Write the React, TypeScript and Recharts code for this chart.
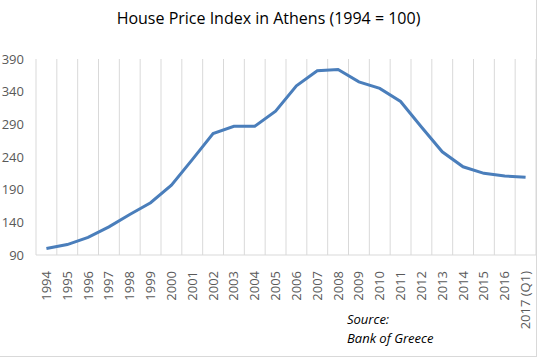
import { CartesianGrid, Line, LineChart, XAxis, YAxis } from "recharts";

const years = [
  "1994", "1995", "1996", "1997", "1998", "1999", "2000", "2001",
  "2002", "2003", "2004", "2005", "2006", "2007", "2008", "2009",
  "2010", "2011", "2012", "2013", "2014", "2015", "2016", "2017 (Q1)",
];
const priceIndex = [
  100, 106, 117, 133, 152, 170, 197, 236,
  276, 287, 287, 310, 349, 372, 374, 355,
  345, 325, 286, 248, 225, 215, 211, 209,
];
const yTicks = [90, 140, 190, 240, 290, 340, 390];

const data = years.map((year, i) => ({ year, value: priceIndex[i] }));

const FONT = "'Open Sans', sans-serif";
const GRID = "#d9d9d9";

function YearTick(props: any) {
  const { x, y, payload } = props;
  return (
    <text
      x={x}
      y={y}
      transform={`rotate(-90, ${x}, ${y})`}
      dx={-8}
      dy={4.5}
      textAnchor="end"
      fill="#595959"
      fontSize={13}
      fontFamily={FONT}
    >
      {payload.value}
    </text>
  );
}

// grid lines sit on the category boundaries, like Excel's
function boundaries({ offset }: any) {
  const step = offset.width / years.length;
  return years.map((_, i) => offset.left + i * step).concat(offset.left + offset.width);
}

export default function App() {
  return (
    <div
      style={{
        position: "absolute",
        left: 0,
        top: 0,
        width: 537,
        height: 360,
        background: "#fff",
        fontFamily: FONT,
      }}
    >
      <div
        style={{
          position: "absolute",
          left: 0,
          top: 0,
          width: 536,
          height: 356,
          borderRight: `1px solid ${GRID}`,
          borderBottom: `1px solid ${GRID}`,
        }}
      />
      <div
        style={{
          position: "absolute",
          left: 0,
          top: 7,
          width: 537,
          textAlign: "center",
          fontSize: 16,
          lineHeight: "22px",
          color: "#000",
        }}
      >
        House Price Index in Athens (1994 = 100)
      </div>
      <LineChart
        width={537}
        height={360}
        data={data}
        margin={{ top: 59, right: 1, left: 0, bottom: 45 }}
        style={{ position: "absolute", left: 0, top: 0 }}
      >
        <CartesianGrid
          horizontal={false}
          stroke={GRID}
          verticalCoordinatesGenerator={boundaries}
        />
        <XAxis
          dataKey="year"
          scale="band"
          interval={0}
          height={60}
          tickLine={false}
          axisLine={{ stroke: GRID }}
          tick={<YearTick />}
        />
        <YAxis
          domain={[90, 390]}
          ticks={yTicks}
          width={36}
          axisLine={false}
          tickLine={false}
          tickSize={0}
          tickMargin={12}
          tick={{ fill: "#595959", fontSize: 13, fontFamily: FONT }}
        />
        <Line
          type="linear"
          dataKey="value"
          stroke="#4a7ebb"
          strokeWidth={3}
          dot={false}
          isAnimationActive={false}
        />
      </LineChart>
      <div
        style={{
          position: "absolute",
          left: 347,
          top: 310,
          fontSize: 13,
          lineHeight: "19px",
          fontStyle: "italic",
          color: "#000",
        }}
      >
        Source:
        <br />
        Bank of Greece
      </div>
    </div>
  );
}
